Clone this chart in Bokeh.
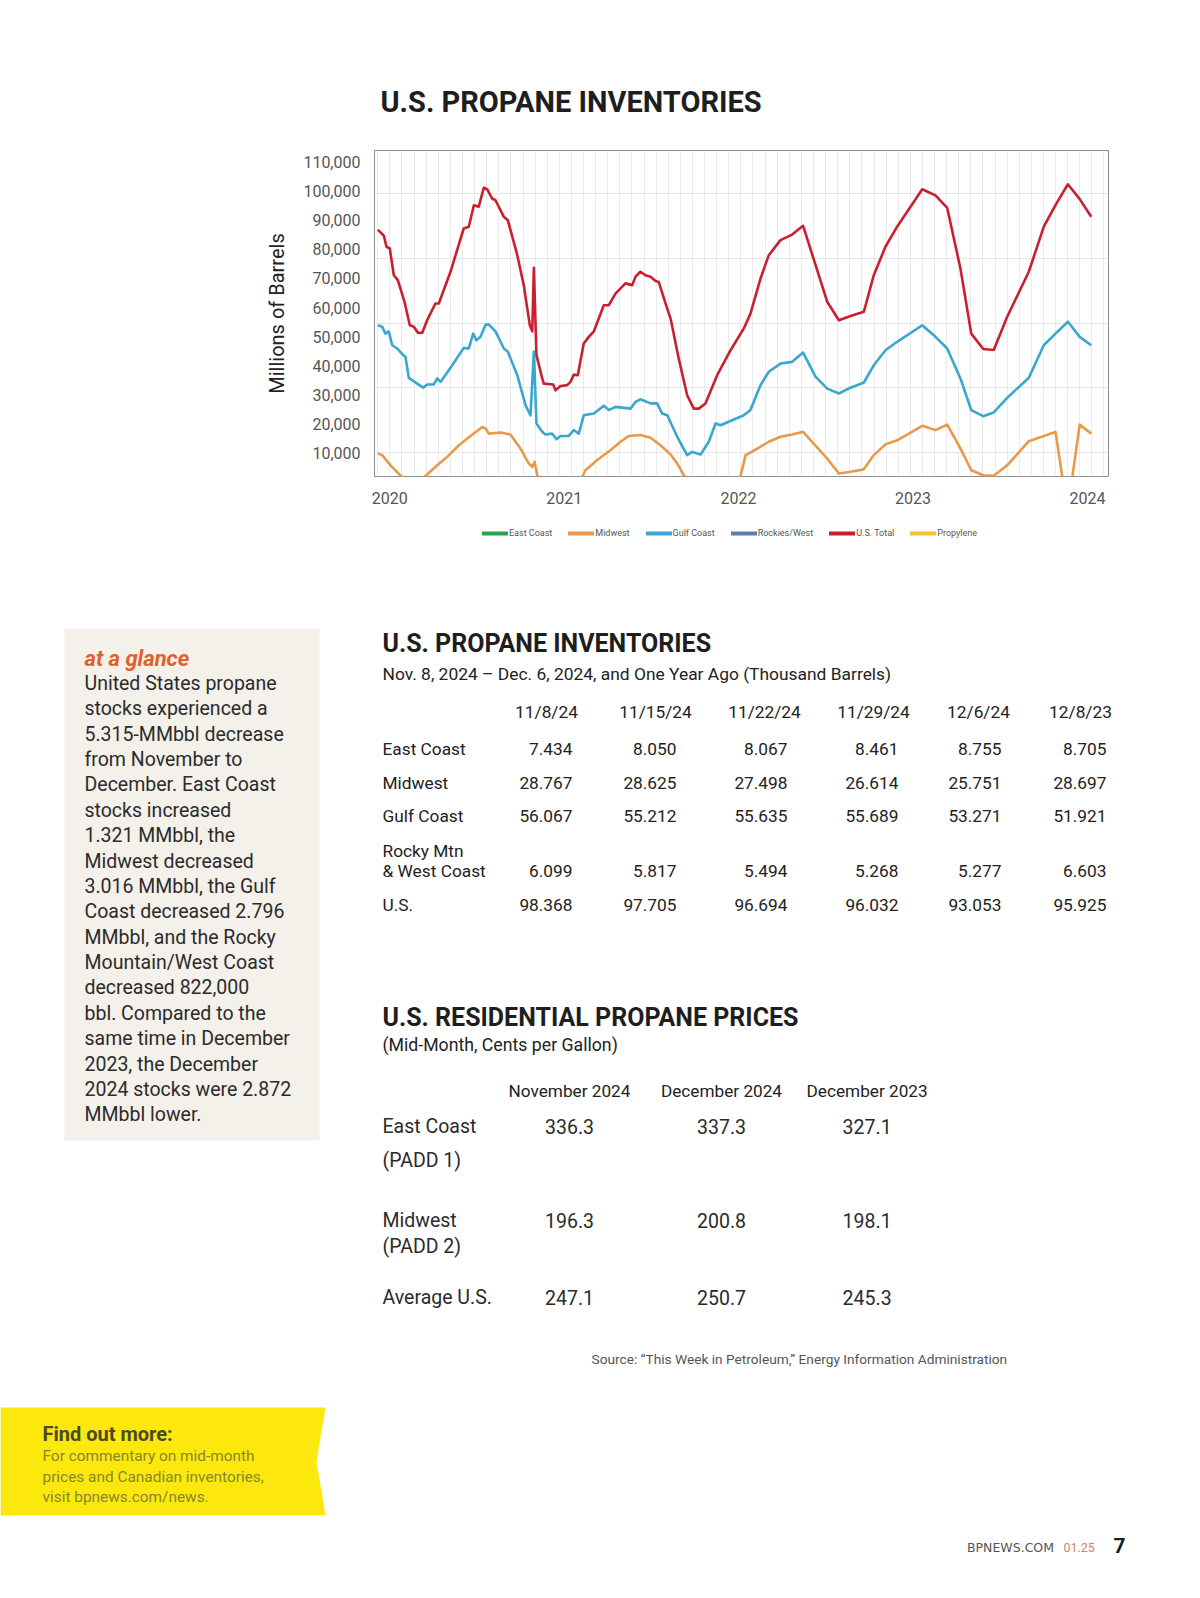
import numpy as np
from bokeh.plotting import figure
from bokeh.models import Range1d, FixedTicker, NumeralTickFormatter, Legend, LegendItem
from bokeh.core.properties import value
from bokeh.embed import file_html
from bokeh.resources import INLINE

# ---------------- chart data (thousand barrels, decimal years) ----------------
us_total_x = [2019.931, 2019.966, 2019.981, 2020.000, 2020.023, 2020.046, 2020.084, 2020.115, 2020.138, 2020.161,
              2020.186, 2020.214, 2020.262, 2020.281, 2020.348, 2020.424, 2020.453, 2020.482, 2020.510, 2020.539,
              2020.558, 2020.587, 2020.606, 2020.654, 2020.677, 2020.731, 2020.768, 2020.803, 2020.817, 2020.826,
              2020.841, 2020.874, 2020.883, 2020.937, 2020.950, 2020.979, 2021.017, 2021.036, 2021.055, 2021.078,
              2021.112, 2021.141, 2021.170, 2021.227, 2021.256, 2021.294, 2021.351, 2021.390, 2021.409, 2021.437,
              2021.466, 2021.495, 2021.524, 2021.542, 2021.581, 2021.610, 2021.657, 2021.705, 2021.743, 2021.772,
              2021.810, 2021.877, 2021.954, 2022.030, 2022.068, 2022.126, 2022.173, 2022.240, 2022.307, 2022.370,
              2022.508, 2022.575, 2022.642, 2022.718, 2022.775, 2022.842, 2022.909, 2023.053, 2023.129, 2023.196,
              2023.272, 2023.334, 2023.403, 2023.463, 2023.540, 2023.664, 2023.750, 2023.817, 2023.888, 2023.956,
              2024.022]
us_total = [86800, 84700, 80900, 80300, 71100, 69400, 62000, 53900, 53400, 51300,
            51300, 55600, 61400, 61400, 72300, 87200, 87800, 95200, 94700, 101200,
            100700, 97500, 96900, 91200, 90000, 78000, 67700, 53900, 51800, 73700,
            43600, 35600, 33800, 33500, 31500, 33000, 33300, 34400, 36900, 36700,
            47600, 49900, 51800, 60800, 60800, 64800, 68300, 67700, 70600, 72300,
            71100, 70600, 69100, 68800, 61400, 56200, 42400, 29800, 25200, 25200,
            27000, 36700, 45300, 52800, 57900, 70000, 78000, 83200, 85100, 88100,
            62000, 55600, 57100, 58500, 71100, 80900, 87800, 100700, 98600, 94300,
            73400, 51000, 45700, 45400, 56800, 72300, 87800, 95200, 102400, 97300,
            91200]

gulf_x = [2019.931, 2019.956, 2019.975, 2019.994, 2020.014, 2020.042, 2020.077, 2020.090, 2020.109, 2020.157,
          2020.192, 2020.214, 2020.252, 2020.272, 2020.291, 2020.358, 2020.424, 2020.453, 2020.478, 2020.497,
          2020.520, 2020.549, 2020.568, 2020.606, 2020.654, 2020.677, 2020.731, 2020.778, 2020.807, 2020.826,
          2020.841, 2020.874, 2020.893, 2020.931, 2020.956, 2020.979, 2021.026, 2021.055, 2021.084, 2021.112,
          2021.170, 2021.227, 2021.256, 2021.294, 2021.380, 2021.409, 2021.437, 2021.495, 2021.533, 2021.562,
          2021.591, 2021.648, 2021.705, 2021.734, 2021.782, 2021.829, 2021.868, 2021.896, 2022.030, 2022.068,
          2022.126, 2022.173, 2022.240, 2022.307, 2022.370, 2022.441, 2022.508, 2022.575, 2022.642, 2022.718,
          2022.775, 2022.842, 2022.909, 2023.053, 2023.129, 2023.196, 2023.272, 2023.334, 2023.403, 2023.463,
          2023.540, 2023.664, 2023.750, 2023.817, 2023.888, 2023.956, 2024.022]
gulf_coast = [53900, 53400, 51000, 51800, 47000, 45900, 43600, 43000, 35800, 33800,
              32400, 33500, 33500, 35600, 34400, 40100, 46100, 45900, 51000, 48700,
              49900, 54100, 54100, 51800, 45900, 44800, 36700, 26400, 22900, 44800,
              20100, 17200, 16300, 16600, 14700, 15800, 15800, 17800, 16600, 22900,
              23500, 26200, 24700, 25800, 25200, 27500, 28400, 27000, 27000, 23500,
              22900, 15500, 9200, 10300, 9400, 13800, 20100, 19500, 22900, 24700,
              33300, 37900, 40700, 41300, 44500, 36200, 32100, 30400, 32400, 34200,
              40100, 45300, 48200, 53900, 49900, 45900, 35600, 24700, 22600, 23900,
              28900, 35800, 47000, 51000, 55100, 49900, 47000]

midwest_x = [2019.931, 2019.956, 2020.004, 2020.130, 2020.272, 2020.329, 2020.396, 2020.463, 2020.530, 2020.549,
             2020.568, 2020.635, 2020.692, 2020.749, 2020.797, 2020.817, 2020.830, 2020.864, 2020.979, 2021.082,
             2021.122, 2021.189, 2021.265, 2021.323, 2021.370, 2021.437, 2021.495, 2021.552, 2021.610, 2021.648,
             2021.686, 2021.724, 2021.896, 2021.999, 2022.040, 2022.068, 2022.126, 2022.173, 2022.240, 2022.307,
             2022.370, 2022.508, 2022.575, 2022.642, 2022.718, 2022.775, 2022.842, 2022.909, 2023.053, 2023.129,
             2023.196, 2023.272, 2023.334, 2023.403, 2023.463, 2023.540, 2023.664, 2023.750, 2023.817, 2023.886,
             2023.956, 2024.022]
midwest = [9800, 9200, 5700, -2000, 5700, 8600, 12600, 15800, 18900, 18400,
           16600, 17000, 16300, 11500, 6300, 5200, 6900, -3000, -3000, -1000,
           4000, 7500, 10900, 13800, 15800, 16100, 15200, 12600, 9400, 6300,
           2300, -2000, -2000, -1000, 9200, 10100, 12100, 13800, 15500, 16300,
           17200, 8000, 2900, 3500, 4300, 9200, 12900, 14300, 19300, 17800,
           19700, 11500, 4000, 2300, 2100, 5700, 14000, 15800, 17200, -10000,
           19700, 16600]

year_ticks = [2020, 2021, 2022, 2023, 2024]
y_ticks = [10000, 20000, 30000, 40000, 50000, 60000, 70000, 80000, 90000, 100000, 110000]
legend_names = ["East Coast", "Midwest", "Gulf Coast", "Rockies/West", "U.S. Total", "Propylene"]

# ---------------- tables ----------------
inv_dates = ["11/8/24", "11/15/24", "11/22/24", "11/29/24", "12/6/24", "12/8/23"]
inv_rows = ["East Coast", "Midwest", "Gulf Coast", "Rocky Mtn\n& West Coast", "U.S."]
inv_east = [7.434, 8.050, 8.067, 8.461, 8.755, 8.705]
inv_midwest = [28.767, 28.625, 27.498, 26.614, 25.751, 28.697]
inv_gulf = [56.067, 55.212, 55.635, 55.689, 53.271, 51.921]
inv_rocky = [6.099, 5.817, 5.494, 5.268, 5.277, 6.603]
inv_us = [98.368, 97.705, 96.694, 96.032, 93.053, 95.925]

price_cols = ["November 2024", "December 2024", "December 2023"]
price_rows = ["East Coast\n(PADD 1)", "Midwest\n(PADD 2)", "Average U.S."]
price_east = [336.3, 337.3, 327.1]
price_midwest = [196.3, 200.8, 198.1]
price_avg = [247.1, 250.7, 245.3]

glance_title = "at a glance"
glance_lines = ["United States propane", "stocks experienced a", "5.315-MMbbl decrease", "from November to",
                "December. East Coast", "stocks increased", "1.321 MMbbl, the", "Midwest decreased",
                "3.016 MMbbl, the Gulf", "Coast decreased 2.796", "MMbbl, and the Rocky", "Mountain/West Coast",
                "decreased 822,000", "bbl. Compared to the", "same time in December", "2023, the December",
                "2024 stocks were 2.872", "MMbbl lower."]
more_title = "Find out more:"
more_lines = ["For commentary on mid-month", "prices and Canadian inventories,", "visit bpnews.com/news."]
source_text = "Source: \u201cThis Week in Petroleum,\u201d Energy Information Administration"

# ---------------- layout helpers (page pixel coordinates) ----------------
W = 1200
PAGE_H = 1598
SANS = "Roboto"


def page_fig(top, bottom):
    f = figure(width=W, height=bottom - top, x_range=Range1d(0, W), y_range=Range1d(bottom, top),
               output_backend="svg", toolbar_location=None, min_border=0, title=None,
               x_axis_location=None, y_axis_location=None)
    f.grid.visible = False
    f.outline_line_color = None
    f.background_fill_color = "white"
    f.border_fill_color = "white"
    return f


def put(f, xs, ys, texts, size, color="#222222", font=SANS, style="normal", align="left"):
    f.text(x=list(xs), y=list(ys), text=list(texts), text_font=value(font), text_font_size=f"{size}px",
           text_color=color, text_font_style=style, text_align=align, text_baseline="middle")


# ---------------- head (chart title) ----------------
HEAD_H = 142
head = page_fig(0, HEAD_H)
put(head, [380], [101], ["U.S. PROPANE INVENTORIES"], 29, "#1e1e1e", SANS, "bold")

# ---------------- chart ----------------
PX_2020, PX_YEAR = 389.3, 174.4
FL, FR, FT, FB = 374, 1108, 150, 476
PX_10K, PX_PER_K = 452.3, 2.906
CH_H = 376

xr = Range1d(2020 + (FL - PX_2020) / PX_YEAR, 2020 + (FR - PX_2020) / PX_YEAR)
yr = Range1d(10000 - (FB - PX_10K) / PX_PER_K * 1000, 10000 + (PX_10K - FT) / PX_PER_K * 1000)

chart = figure(width=W, height=CH_H, x_range=xr, y_range=yr, output_backend="svg", toolbar_location=None,
               title=None, min_border_left=FL, min_border_right=W - FR,
               min_border_top=FT - HEAD_H, min_border_bottom=CH_H - (FT - HEAD_H) - (FB - FT))
chart.outline_line_color = "#8c8c8c"
chart.outline_line_width = 1
chart.background_fill_color = "white"

chart.xaxis.ticker = FixedTicker(ticks=year_ticks)
chart.yaxis.ticker = FixedTicker(ticks=y_ticks)
chart.yaxis.formatter = NumeralTickFormatter(format="0,0")
for ax in (chart.xaxis, chart.yaxis):
    ax.axis_line_color = None
    ax.major_tick_line_color = None
    ax.minor_tick_line_color = None
    ax.major_tick_out = 0
    ax.major_tick_in = 0
    ax.major_label_text_font = SANS
    ax.major_label_text_font_size = "16px"
    ax.major_label_text_color = "#555555"
chart.yaxis.major_label_standoff = 14
chart.xaxis.major_label_standoff = 15
chart.yaxis.axis_label = "Millions of Barrels"
chart.yaxis.axis_label_text_font = SANS
chart.yaxis.axis_label_text_font_size = "20px"
chart.yaxis.axis_label_text_font_style = "normal"
chart.yaxis.axis_label_text_color = "#222222"
chart.yaxis.axis_label_standoff = 11

chart.xgrid.ticker = FixedTicker(ticks=list(np.arange(us_total_x[0], xr.end, 0.0694)))
chart.xgrid.grid_line_color = "#ebebeb"
chart.ygrid.ticker = FixedTicker(ticks=[10000, 32300, 54600, 76900, 99200])
chart.ygrid.grid_line_color = "#e6e6e6"

colors = {"East Coast": "#2f9e4f", "Midwest": "#e8994a", "Gulf Coast": "#39a7cf",
          "Rockies/West": "#5b7cb6", "U.S. Total": "#c91f2e", "Propylene": "#f1c232"}
series = {"Midwest": (midwest_x, midwest), "Gulf Coast": (gulf_x, gulf_coast), "U.S. Total": (us_total_x, us_total)}
for name in legend_names:
    if name in series:
        xs, ys = series[name]
        chart.line(x=list(xs), y=list(ys), line_color=colors[name], line_width=2.6, line_join="round")

# ---------------- body ----------------
BODY_TOP = HEAD_H + CH_H
body = page_fig(BODY_TOP, PAGE_H)

# legend of the chart: swatch renderers hold a point pair outside the visible page, only the key shows
swatches = {n: body.line(x=[-20, -10], y=[-20, -20], line_color=colors[n], line_width=4, line_cap="round")
            for n in legend_names}
LEG_PAD = 2
LEG_CY = 531
legend = Legend(items=[LegendItem(label=n, renderers=[swatches[n]]) for n in legend_names],
                location=(484 - LEG_PAD, PAGE_H - (LEG_CY + 5 + LEG_PAD)), orientation="horizontal",
                label_text_font=SANS, label_text_font_size="9px", label_text_color="#555555",
                glyph_width=26, glyph_height=10, label_height=10, label_width=10, label_standoff=1,
                spacing=16, padding=LEG_PAD, margin=0, border_line_color=None, background_fill_alpha=0)
body.add_layout(legend)

# sidebar
body.quad(left=[64], right=[319], top=[628], bottom=[1140], fill_color="#f4f0ea", line_color=None)
put(body, [84], [657.6], [glance_title], 22, "#e0622b", SANS, "bold italic")
put(body, [84] * len(glance_lines), [683 + 25.37 * i for i in range(len(glance_lines))], glance_lines, 19.5,
    "#2b2b2b", SANS)

# inventories table
put(body, [382], [643.3], ["U.S. PROPANE INVENTORIES"], 25, "#1e1e1e", SANS, "bold")
put(body, [382], [673], ["Nov. 8, 2024 \u2013 Dec. 6, 2024, and One Year Ago (Thousand Barrels)"], 17.4,
    "#222222", SANS)
inv_head_x = [546, 655, 764, 873, 978, 1080]
inv_val_x = [572, 676, 787, 898, 1001, 1106]
put(body, inv_head_x, [711.6] * 6, inv_dates, 17.3, "#222222", SANS, align="center")
inv_row_y = [748.3, 782, 815.6, 870.7, 904.3]
label_x, label_y, label_t = [], [], []
for lab, yy in zip(inv_rows, inv_row_y):
    parts = lab.split("\n")
    for k, part in enumerate(parts):
        label_x.append(382)
        label_y.append(yy - 20.4 * (len(parts) - 1 - k))
        label_t.append(part)
put(body, label_x, label_y, label_t, 17.3, "#222222", SANS)
for vals, yy in zip([inv_east, inv_midwest, inv_gulf, inv_rocky, inv_us], inv_row_y):
    put(body, inv_val_x, [yy] * 6, [f"{v:.3f}" for v in vals], 17.3, "#222222", SANS, align="right")

# prices table
put(body, [382], [1017.3], ["U.S. RESIDENTIAL PROPANE PRICES"], 25, "#1e1e1e", SANS, "bold")
put(body, [382], [1044], ["(Mid-Month, Cents per Gallon)"], 17.7, "#222222", SANS)
price_x = [569, 721, 866.6]
put(body, price_x, [1090] * 3, price_cols, 17.2, "#222222", SANS, align="center")
price_row_y = [1125.5, 1220, 1297]
second_line_y = [1160, 1246, None]
lx, ly, lt = [], [], []
for lab, yy, y2 in zip(price_rows, price_row_y, second_line_y):
    parts = lab.split("\n")
    lx.append(382); ly.append(yy); lt.append(parts[0])
    if len(parts) > 1:
        lx.append(382); ly.append(y2); lt.append(parts[1])
put(body, lx, ly, lt, 19.5, "#2b2b2b", SANS)
for vals, yy in zip([price_east, price_midwest, price_avg], price_row_y):
    put(body, price_x, [yy] * 3, [f"{v:.1f}" for v in vals], 19.5, "#2b2b2b", SANS, align="center")

put(body, [591], [1358], [source_text], 13.7, "#555555", SANS)

# yellow box
body.patch(x=[0, 325, 316, 325, 0], y=[1407, 1407, 1461, 1515, 1515], fill_color="#fce80c", line_color=None)
put(body, [42], [1433], [more_title], 20, "#4a4a24", SANS, "bold")
put(body, [42] * 3, [1455, 1476, 1496.7], more_lines, 15.4, "#86862e", SANS)

# footer
put(body, [966.5], [1546.6], ["BPNEWS.COM"], 12.5, "#555555", "DejaVu Sans")
put(body, [1063], [1546.6], ["01.25"], 12.5, "#d4846a", SANS)
put(body, [1113], [1545], ["7"], 21, "#1e1e1e", SANS, "bold")

open("out.html", "w").write(file_html([head, chart, body], INLINE))
